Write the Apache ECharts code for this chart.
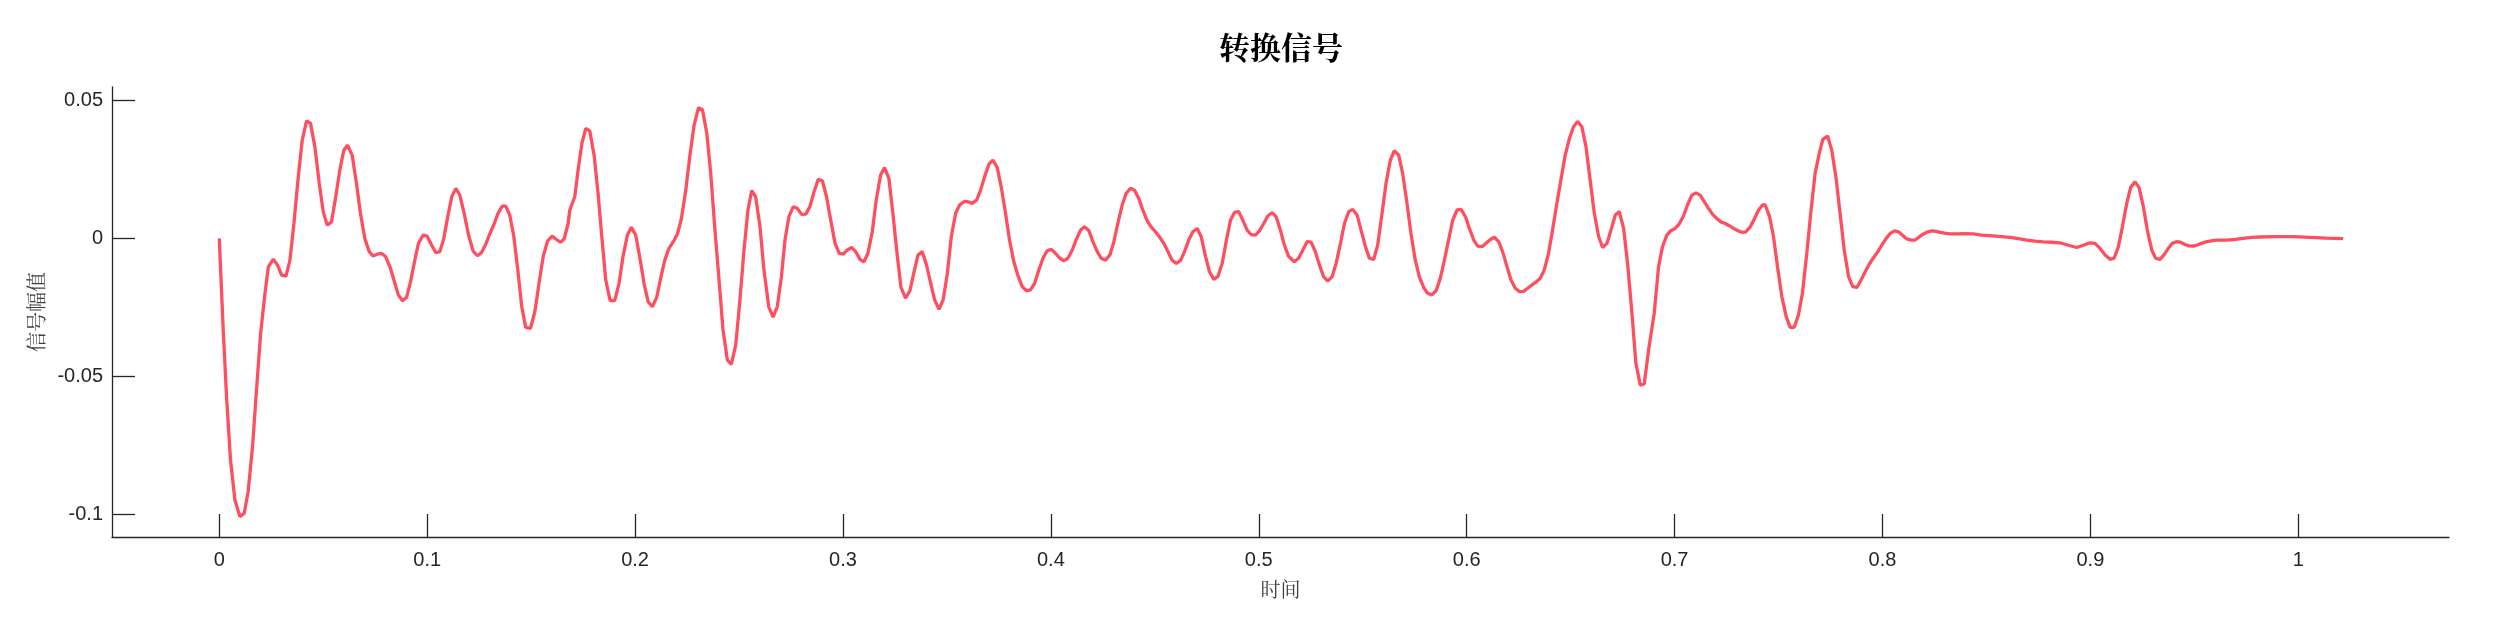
<!DOCTYPE html>
<html>
<head>
<meta charset="utf-8">
<script src="https://cdn.jsdelivr.net/npm/echarts@6/dist/echarts.min.js"></script>
<style>
html,body{margin:0;padding:0;background:#fff;}
#chart{width:2500px;height:625px;}
</style>
</head>
<body>
<div id="chart"></div>
<script>
var chartTitle = '转换信号';
var xAxisName = '时间';
var yAxisName = '信号幅值';
var xTickValues = [0, 0.1, 0.2, 0.3, 0.4, 0.5, 0.6, 0.7, 0.8, 0.9, 1];
var xTickLabels = ['0', '0.1', '0.2', '0.3', '0.4', '0.5', '0.6', '0.7', '0.8', '0.9', '1'];
var yTickValues = [-0.1, -0.05, 0, 0.05];
var yTickLabels = ['-0.1', '-0.05', '0', '0.05'];

var timeValues = [
0,0.0019,0.0035,0.0054,0.0075,0.0099,0.0120,0.0139,0.0160,0.0179,0.0199,0.0220,0.0236,0.0260,0.0280,0.0300,0.0321,0.0340,0.0359,0.0380,0.0399,0.0420,0.0439,0.0460,0.0481,0.0500,0.0519,0.0540,0.0559,0.0580,0.0599,0.0617,0.0639,0.0660,0.0679,0.0700,0.0721,0.0740,0.0761,0.0780,0.0800,0.0821,0.0840,0.0861,0.0881,0.0901,0.0920,0.0939,0.0958,0.0981,0.1000,0.1021,0.1042,0.1061,0.1080,0.1099,0.1119,0.1138,0.1157,0.1178,0.1199,0.1221,0.1242,0.1261,0.1282,0.1301,0.1322,0.1341,0.1361,0.1378,0.1397,0.1417,0.1436,0.1455,0.1474,0.1497,0.1518,0.1538,0.1558,0.1579,0.1601,0.1622,0.1641,0.1659,0.1678,0.1686,
0.1710,0.1726,0.1744,0.1763,0.1782,0.1803,0.1822,0.1840,0.1859,0.1880,0.1902,0.1923,0.1942,0.1963,0.1982,0.2003,0.2022,0.2043,0.2063,0.2083,0.2104,0.2123,0.2143,0.2163,0.2184,0.2204,0.2223,0.2244,0.2263,0.2284,0.2305,0.2324,0.2345,0.2364,0.2383,0.2404,0.2423,0.2444,0.2463,0.2484,0.2503,0.2524,0.2543,0.2561,0.2580,0.2601,0.2620,0.2643,0.2664,0.2684,0.2704,0.2721,0.2740,0.2761,0.2780,0.2801,0.2821,0.2841,0.2861,0.2881,0.2901,0.2921,0.2941,0.2962,0.2982,0.3002,0.3021,0.3042,0.3061,0.3082,0.3101,0.3120,0.3141,0.3160,0.3181,0.3200,0.3221,0.3240,0.3260,0.3279,0.3301,0.3322,0.3341,0.3361,0.3381,0.3402,0.3421,
0.3441,0.3462,0.3482,0.3502,0.3521,0.3542,0.3561,0.3582,0.3601,0.3622,0.3643,0.3662,0.3681,0.3702,0.3721,0.3742,0.3761,0.3782,0.3801,0.3822,0.3841,0.3862,0.3883,0.3902,0.3922,0.3942,0.3962,0.3982,0.4002,0.4022,0.4043,0.4063,0.4082,0.4103,0.4122,0.4143,0.4162,0.4183,0.4202,0.4223,0.4242,0.4263,0.4284,0.4303,0.4322,0.4343,0.4362,0.4383,0.4402,0.4423,0.4442,0.4463,0.4482,0.4503,0.4522,0.4543,0.4563,0.4583,0.4604,0.4623,0.4643,0.4664,0.4683,0.4704,0.4723,0.4744,0.4763,0.4784,0.4803,0.4824,0.4843,0.4864,0.4883,0.4904,0.4923,0.4944,0.4963,0.4984,0.5003,0.5024,0.5043,0.5064,0.5083,0.5104,0.5123,0.5144,
0.5152,0.5171,0.5192,0.5212,0.5232,0.5252,0.5272,0.5292,0.5312,0.5332,0.5353,0.5372,0.5393,0.5412,0.5433,0.5452,0.5473,0.5492,0.5513,0.5532,0.5553,0.5572,0.5593,0.5612,0.5633,0.5652,0.5673,0.5692,0.5713,0.5732,0.5753,0.5772,0.5793,0.5812,0.5833,0.5853,0.5873,0.5893,0.5913,0.5933,0.5954,0.5973,0.5994,0.6013,0.6034,0.6053,0.6074,0.6093,0.6114,0.6133,0.6154,0.6173,0.6194,0.6213,0.6234,0.6253,0.6274,0.6293,0.6314,0.6333,0.6354,0.6373,0.6394,0.6413,0.6434,0.6453,0.6474,0.6494,0.6514,0.6534,0.6554,0.6574,0.6594,0.6614,0.6635,0.6654,0.6675,0.6694,0.6715,0.6734,0.6755,0.6774,0.6795,0.6814,0.6835,0.6854,0.6875,
0.6902,0.6923,0.6942,0.6963,0.6982,0.7003,0.7022,0.7043,0.7062,0.7083,0.7103,0.7123,0.7143,0.7163,0.7183,0.7203,0.7223,0.7244,0.7263,0.7284,0.7303,0.7324,0.7343,0.7364,0.7383,0.7404,0.7423,0.7436,0.7457,0.7476,0.7495,0.7516,0.7537,0.7556,0.7575,0.7596,0.7615,0.7636,0.7655,0.7676,0.7696,0.7713,0.7736,0.7756,0.7776,0.7796,0.7816,0.7837,0.7857,0.7877,0.7897,0.7917,0.7937,0.7957,0.7978,0.7997,0.8018,0.8037,0.8058,0.8077,0.8098,0.8117,0.8138,0.8157,0.8178,0.8197,0.8218,0.8237,0.8258,0.8278,0.8298,0.8318,0.8338,0.8357,0.8397,0.8437,0.8477,0.8517,0.8557,0.8613,
0.8654,0.8694,0.8734,0.8774,0.8814,0.8854,0.8894,0.8934,0.8966,0.8998,0.9022,0.9046,0.9071,0.9095,0.9114,0.9135,0.9154,0.9175,0.9194,0.9215,0.9234,0.9255,0.9274,0.9295,0.9314,0.9335,0.9354,0.9375,0.9394,0.9415,0.9434,0.9455,0.9474,0.9495,0.9514,0.9535,0.9554,0.9575,0.9595,0.9615,0.9655,0.9695,0.9736,0.9776,0.9816,0.9896,0.9976,1.0056,1.0136,1.0216
];

var amplitudeValues = [
0,-0.0332,-0.0574,-0.0803,-0.0948,-0.1009,-0.0997,-0.0918,-0.0755,-0.0550,-0.0344,-0.0199,-0.0103,-0.0075,-0.0097,-0.0133,-0.0137,-0.0079,0.0054,0.0223,0.0356,0.0426,0.0417,0.0332,0.0199,0.0097,0.0048,0.0060,0.0145,0.0248,0.0320,0.0338,0.0302,0.0199,0.0091,0.0000,-0.0048,-0.0064,-0.0057,-0.0054,-0.0066,-0.0103,-0.0151,-0.0205,-0.0226,-0.0214,-0.0157,-0.0085,-0.0018,0.0012,0.0008,-0.0024,-0.0052,-0.0048,0.0000,0.0079,0.0153,0.0181,0.0157,0.0091,0.0012,-0.0046,-0.0063,-0.0052,-0.0021,0.0016,0.0052,0.0091,0.0117,0.0117,0.0085,0.0006,-0.0115,-0.0248,-0.0323,-0.0326,-0.0266,-0.0163,-0.0066,-0.0010,0.0008,-0.0004,-0.0014,-0.0002,0.0054,0.0103,
0.0151,0.0248,0.0344,0.0399,0.0390,0.0302,0.0163,0.0006,-0.0151,-0.0226,-0.0226,-0.0163,-0.0066,0.0012,0.0040,0.0012,-0.0066,-0.0163,-0.0230,-0.0248,-0.0214,-0.0145,-0.0079,-0.0036,-0.0012,0.0016,0.0072,0.0175,0.0296,0.0411,0.0474,0.0467,0.0381,0.0236,0.0042,-0.0151,-0.0332,-0.0441,-0.0457,-0.0387,-0.0236,-0.0042,0.0103,0.0173,0.0151,0.0042,-0.0115,-0.0248,-0.0286,-0.0248,-0.0139,-0.0006,0.0079,0.0115,0.0109,0.0087,0.0088,0.0115,0.0169,0.0214,0.0209,0.0151,0.0066,-0.0018,-0.0054,-0.0057,-0.0042,-0.0033,-0.0048,-0.0076,-0.0085,-0.0054,0.0024,0.0139,0.0230,0.0257,0.0217,0.0091,-0.0054,-0.0178,-0.0217,-0.0190,-0.0124,-0.0060,-0.0048,-0.0097,-0.0160,
-0.0223,-0.0257,-0.0223,-0.0127,0.0006,0.0091,0.0121,0.0133,0.0133,0.0127,0.0139,0.0175,0.0223,0.0269,0.0284,0.0257,0.0187,0.0091,-0.0006,-0.0085,-0.0133,-0.0175,-0.0190,-0.0187,-0.0163,-0.0115,-0.0072,-0.0045,-0.0040,-0.0054,-0.0072,-0.0081,-0.0072,-0.0042,-0.0004,0.0030,0.0042,0.0028,-0.0012,-0.0048,-0.0072,-0.0079,-0.0060,-0.0012,0.0054,0.0121,0.0163,0.0182,0.0175,0.0145,0.0103,0.0064,0.0042,0.0024,0.0006,-0.0018,-0.0048,-0.0079,-0.0091,-0.0081,-0.0048,-0.0004,0.0024,0.0036,0.0006,-0.0066,-0.0121,-0.0149,-0.0139,-0.0091,-0.0012,0.0066,0.0094,0.0097,0.0066,0.0030,0.0014,0.0012,0.0027,0.0054,0.0081,0.0093,0.0079,0.0030,-0.0024,-0.0066,
-0.0072,-0.0085,-0.0072,-0.0042,-0.0012,-0.0014,-0.0048,-0.0097,-0.0139,-0.0155,-0.0139,-0.0091,-0.0018,0.0054,0.0097,0.0105,0.0085,0.0030,-0.0030,-0.0072,-0.0076,-0.0024,0.0091,0.0199,0.0284,0.0318,0.0302,0.0236,0.0127,0.0018,-0.0079,-0.0139,-0.0178,-0.0199,-0.0205,-0.0190,-0.0145,-0.0079,-0.0006,0.0066,0.0103,0.0105,0.0079,0.0036,-0.0006,-0.0028,-0.0030,-0.0018,-0.0004,0.0004,-0.0012,-0.0048,-0.0103,-0.0151,-0.0181,-0.0193,-0.0192,-0.0181,-0.0169,-0.0159,-0.0145,-0.0115,-0.0054,0.0030,0.0127,0.0211,0.0302,0.0362,0.0405,0.0424,0.0405,0.0332,0.0211,0.0091,0.0006,-0.0033,-0.0018,0.0030,0.0085,0.0097,0.0036,-0.0091,-0.0272,-0.0453,-0.0532,-0.0528,-0.0405,
-0.0272,-0.0103,-0.0030,0.0012,0.0028,0.0036,0.0052,0.0081,0.0121,0.0157,0.0165,0.0157,0.0133,0.0109,0.0087,0.0072,0.0060,0.0054,0.0046,0.0036,0.0028,0.0022,0.0024,0.0042,0.0069,0.0103,0.0121,0.0121,0.0079,0.0006,-0.0103,-0.0211,-0.0284,-0.0323,-0.0323,-0.0278,-0.0199,-0.0054,0.0091,0.0236,0.0308,0.0359,0.0371,0.0320,0.0223,0.0091,-0.0042,-0.0139,-0.0175,-0.0178,-0.0151,-0.0121,-0.0093,-0.0070,-0.0048,-0.0024,0.0000,0.0018,0.0027,0.0024,0.0010,-0.0002,-0.0006,-0.0006,0.0006,0.0016,0.0024,0.0027,0.0025,0.0022,0.0019,0.0017,0.0016,0.0016,0.0017,0.0016,0.0012,0.0010,0.0007,0.0004,
-0.0001,-0.0006,-0.0010,-0.0013,-0.0014,-0.0016,-0.0025,-0.0033,-0.0025,-0.0016,-0.0018,-0.0036,-0.0060,-0.0076,-0.0072,-0.0030,0.0042,0.0127,0.0185,0.0205,0.0185,0.0115,0.0030,-0.0042,-0.0072,-0.0076,-0.0060,-0.0036,-0.0018,-0.0012,-0.0014,-0.0022,-0.0027,-0.0028,-0.0024,-0.0018,-0.0013,-0.0010,-0.0007,-0.0006,-0.0006,-0.0004,0.0000,0.0004,0.0005,0.0006,0.0006,0.0004,0.0001,-0.0001
];

var seriesData = timeValues.map(function (t, i) { return [t, amplitudeValues[i]]; });

function labelFor(values, labels) {
  return function (v) {
    for (var i = 0; i < values.length; i++) {
      if (Math.abs(values[i] - v) < 1e-9) return labels[i];
    }
    return '';
  };
}

var axisColor = '#262626';
var chart = echarts.init(document.getElementById('chart'), null, {renderer: 'canvas'});
chart.setOption({
  animation: false,
  backgroundColor: '#ffffff',
  title: {
    text: chartTitle,
    left: 1276,
    top: 27,
    textAlign: 'center',
    textStyle: {
      fontFamily: '"Noto Serif CJK SC", "Noto Sans CJK SC", serif',
      fontSize: 31,
      fontWeight: 'bold',
      color: '#000000'
    }
  },
  grid: {left: 112, right: 51, top: 87, bottom: 88, containLabel: false},
  xAxis: {
    type: 'value',
    min: -0.0516,
    max: 1.0725,
    name: xAxisName,
    nameLocation: 'middle',
    nameGap: 42,
    nameTextStyle: {
      fontFamily: '"Noto Serif CJK SC", "Noto Sans CJK SC", serif',
      fontSize: 20,
      color: '#404040'
    },
    axisLine: {show: true, onZero: false, lineStyle: {color: axisColor, width: 1.3}},
    axisTick: {show: true, inside: true, length: 23, customValues: xTickValues, lineStyle: {color: axisColor, width: 1.3}},
    axisLabel: {
      show: true,
      customValues: xTickValues,
      formatter: labelFor(xTickValues, xTickLabels),
      margin: 13,
      fontFamily: '"Liberation Sans", Arial, sans-serif',
      fontSize: 20,
      color: axisColor
    },
    splitLine: {show: false}
  },
  yAxis: {
    type: 'value',
    min: -0.1083,
    max: 0.0549,
    name: yAxisName,
    nameLocation: 'middle',
    nameGap: 64,
    nameRotate: 90,
    nameTextStyle: {
      fontFamily: '"Noto Serif CJK SC", "Noto Sans CJK SC", serif',
      fontSize: 20,
      color: '#404040'
    },
    axisLine: {show: true, onZero: false, lineStyle: {color: axisColor, width: 1.3}},
    axisTick: {show: true, inside: true, length: 23, customValues: yTickValues, lineStyle: {color: axisColor, width: 1.3}},
    axisLabel: {
      show: true,
      customValues: yTickValues,
      formatter: labelFor(yTickValues, yTickLabels),
      margin: 9,
      fontFamily: '"Liberation Sans", Arial, sans-serif',
      fontSize: 20,
      color: axisColor
    },
    splitLine: {show: false}
  },
  series: [{
    type: 'line',
    data: seriesData,
    showSymbol: false,
    smooth: false,
    clip: true,
    lineStyle: {color: '#fd4f5f', width: 3.3},
    itemStyle: {color: '#fd4f5f'}
  }]
});
</script>
</body>
</html>
